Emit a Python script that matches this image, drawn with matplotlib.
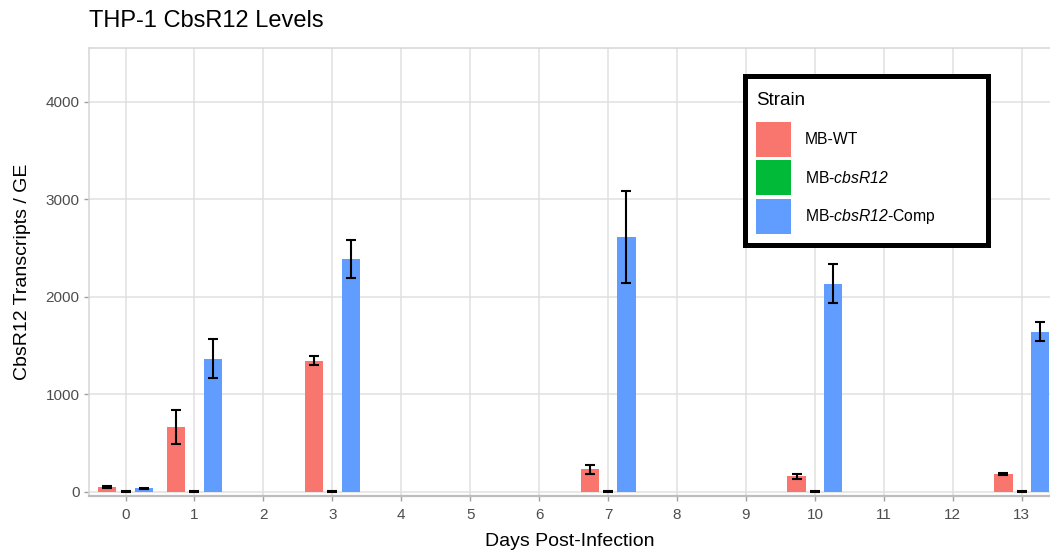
import matplotlib
matplotlib.use("Agg")
import matplotlib.pyplot as plt
from matplotlib.patches import Patch
import numpy as np

plt.rcParams['font.family'] = ['Liberation Sans', 'DejaVu Sans']
plt.rcParams['mathtext.fontset'] = 'custom'
plt.rcParams['mathtext.rm'] = 'Liberation Sans:italic'
plt.rcParams['mathtext.it'] = 'Liberation Sans:italic'
plt.rcParams['mathtext.bf'] = 'Liberation Sans:italic:bold'

# ---- data ----
days = [0, 1, 3, 7, 10, 13]
strains = ["MB-WT", "MB-$cbsR12$", "MB-$cbsR12$-Comp"]
wt_mean = [50, 667, 1345, 230, 161, 185]
wt_err = [12, 173, 46, 48, 24, 8]
ko_mean = [2, 2, 2, 2, 2, 2]
ko_err = [3, 3, 3, 3, 3, 3]
comp_mean = [35, 1366, 2387, 2615, 2136, 1643]
comp_err = [10, 200, 190, 472, 200, 100]
xticks = list(range(0, 14))
yticks = [0, 1000, 2000, 3000, 4000]

colors = ["#F8766D", "#00BA38", "#619CFF"]

fig = plt.figure(figsize=(10.5, 5.54), dpi=100)
ax = fig.add_axes([89/1050, 1 - 495.5/554, 1 - 89/1050, (495.5 - 48)/554])

x = np.array(days, dtype=float)
width = 0.8 / 3
series = [(wt_mean, wt_err), (ko_mean, ko_err), (comp_mean, comp_err)]
for i, ((m, e), c) in enumerate(zip(series, colors)):
    xs = x + (i - 1) * width
    ax.bar(xs, m, width=width, color=c, zorder=2)
    ax.errorbar(xs, m, yerr=e, fmt='none', ecolor='black', elinewidth=1.5,
                capsize=3.8, capthick=1.5, zorder=3)

ax.set_xlim(-0.53, 13.41)
ax.set_ylim(-37, 4550)
ax.set_xticks(xticks)
ax.set_yticks(yticks)
ax.set_xticklabels([str(t) for t in xticks])
ax.set_yticklabels([str(t) for t in yticks])
ax.tick_params(axis='both', colors='#A0A0A0', labelcolor='#4D4D4D',
               labelsize=11, length=3.8, width=1.0)
ax.tick_params(axis='x', pad=5.5)
ax.tick_params(axis='y', pad=3)
ax.grid(True, color='#E0E0E0', linewidth=1.1, zorder=0)
ax.set_axisbelow(True)
for s in ['top', 'left']:
    ax.spines[s].set_color('#D6D6D6')
    ax.spines[s].set_linewidth(1.1)
ax.spines['bottom'].set_color('#BDBDBD')
ax.spines['bottom'].set_linewidth(1.6)
ax.spines['right'].set_visible(False)

fig.text(89/1050, 1 - 21/554, "THP-1 CbsR12 Levels", fontsize=17,
         ha='left', va='center', color='black')
fig.text((89 + 1050) / 2 / 1050, 1 - 541/554, "Days Post-Infection",
         fontsize=14, ha='center', va='center')
fig.text(23/1050, 1 - 272/554, "CbsR12 Transcripts / GE", fontsize=14,
         ha='center', va='center', rotation=90)

handles = [Patch(facecolor=c, edgecolor='none') for c in colors]
x0, x1 = 745/1050, 987.5/1050
ytop = 1 - 75.5/554
leg = fig.legend(handles, strains, title="Strain", loc='upper left',
                 bbox_to_anchor=(x0, ytop - 0.3, x1 - x0, 0.3), mode='expand',
                 borderaxespad=0,
                 fontsize=11.3, title_fontsize=13.5, alignment='left',
                 handlelength=2.2, handleheight=3.05, labelspacing=0.2,
                 handletextpad=0.9, borderpad=0.7, fancybox=False,
                 frameon=True, framealpha=1)
leg._legend_box.sep = 13.5
leg._legend_title_box.pad = 0
leg._legend_box.pad = 8
leg.get_frame().set_edgecolor('black')
leg.get_frame().set_linewidth(3.6)
leg.get_title().set_position((0, -5))

fig.savefig("out.png", dpi=100)
